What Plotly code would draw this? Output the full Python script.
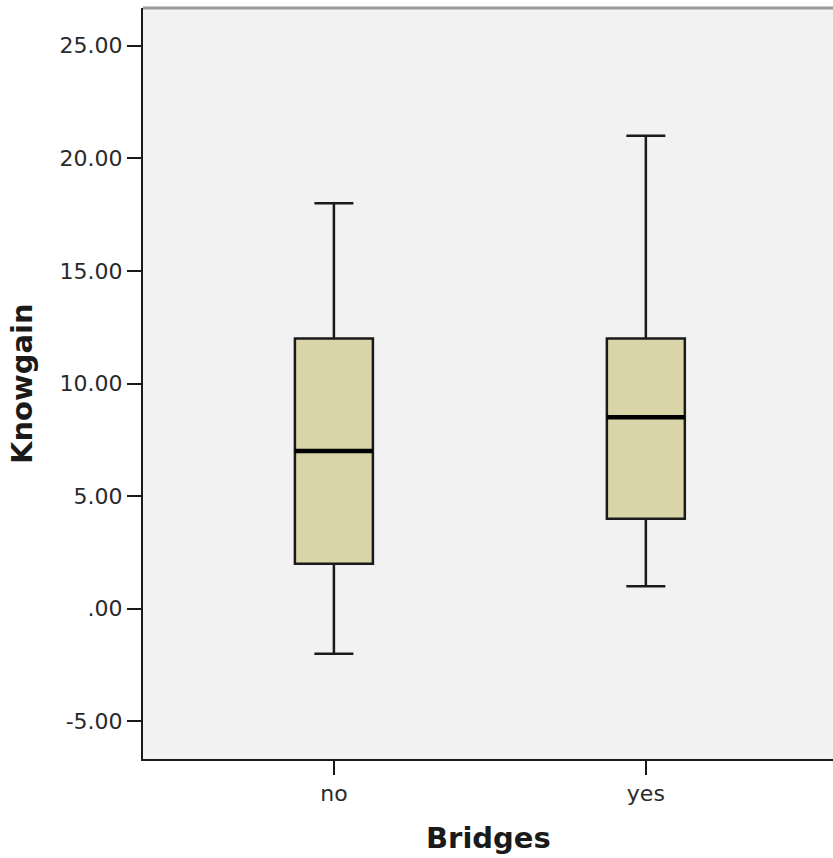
import plotly.graph_objects as go

categories = ["no", "yes"]
lower_whisker = [-2.0, 1.0]
q1_values = [2.0, 4.0]
median_values = [7.0, 8.5]
q3_values = [12.0, 12.0]
upper_whisker = [18.0, 21.0]
y_tick_vals = [-5, 0, 5, 10, 15, 20, 25]
y_tick_text = ["-5.00", ".00", "5.00", "10.00", "15.00", "20.00", "25.00"]

positions = list(range(len(categories)))
box_width = 0.25

fig = go.Figure()
fig.add_trace(go.Box(
    x=positions,
    lowerfence=lower_whisker,
    q1=q1_values,
    median=median_values,
    q3=q3_values,
    upperfence=upper_whisker,
    width=box_width,
    whiskerwidth=0.5,
    fillcolor="#D9D5A8",
    line=dict(color="#1a1a1a", width=2.5),
    boxpoints=False,
    hoverinfo="skip",
    showlegend=False,
))

for p, m in zip(positions, median_values):
    fig.add_shape(type="line", xref="x", yref="y",
                  x0=p - box_width / 2, x1=p + box_width / 2, y0=m, y1=m,
                  line=dict(color="black", width=4.5))

fig.add_shape(type="line", xref="paper", yref="paper", x0=0, x1=1, y0=1, y1=1,
              line=dict(color="#9a9a9a", width=3))

fig.update_layout(
    width=833, height=858,
    margin=dict(l=143, r=0, t=8, b=99),
    paper_bgcolor="white",
    plot_bgcolor="#F2F2F2",
    font=dict(family="DejaVu Sans", color="#222222"),
    xaxis=dict(
        range=[-0.612, 1.6],
        tickvals=positions,
        ticktext=categories,
        showgrid=False, zeroline=False,
        showline=True, linecolor="#1a1a1a", linewidth=2,
        ticks="outside", ticklen=14, tickwidth=2, tickcolor="#1a1a1a",
        tickfont=dict(size=22, family="DejaVu Sans", color="#2a2a2a"),
    ),
    yaxis=dict(
        range=[-6.67, 26.67],
        tickvals=y_tick_vals,
        ticktext=y_tick_text,
        showgrid=False, zeroline=False,
        showline=True, linecolor="#1a1a1a", linewidth=2,
        ticks="outside", ticklen=14, tickwidth=2, tickcolor="#1a1a1a",
        tickfont=dict(size=22, family="DejaVu Sans", color="#2a2a2a"),
    ),
    annotations=[
        dict(text="<b>Bridges</b>", xref="paper", yref="paper", x=0.5, y=-0.105,
             xanchor="center", yanchor="middle", showarrow=False,
             font=dict(size=29, family="DejaVu Sans", color="#1a1a1a")),
        dict(text="<b>Knowgain</b>", xref="paper", yref="paper", x=-0.176, y=0.5,
             xanchor="center", yanchor="middle", textangle=-90, showarrow=False,
             font=dict(size=29, family="DejaVu Sans", color="#1a1a1a")),
    ],
)

fig.write_html("out.html", config={"displayModeBar": False},
               post_script="document.body.style.margin='0px';")
